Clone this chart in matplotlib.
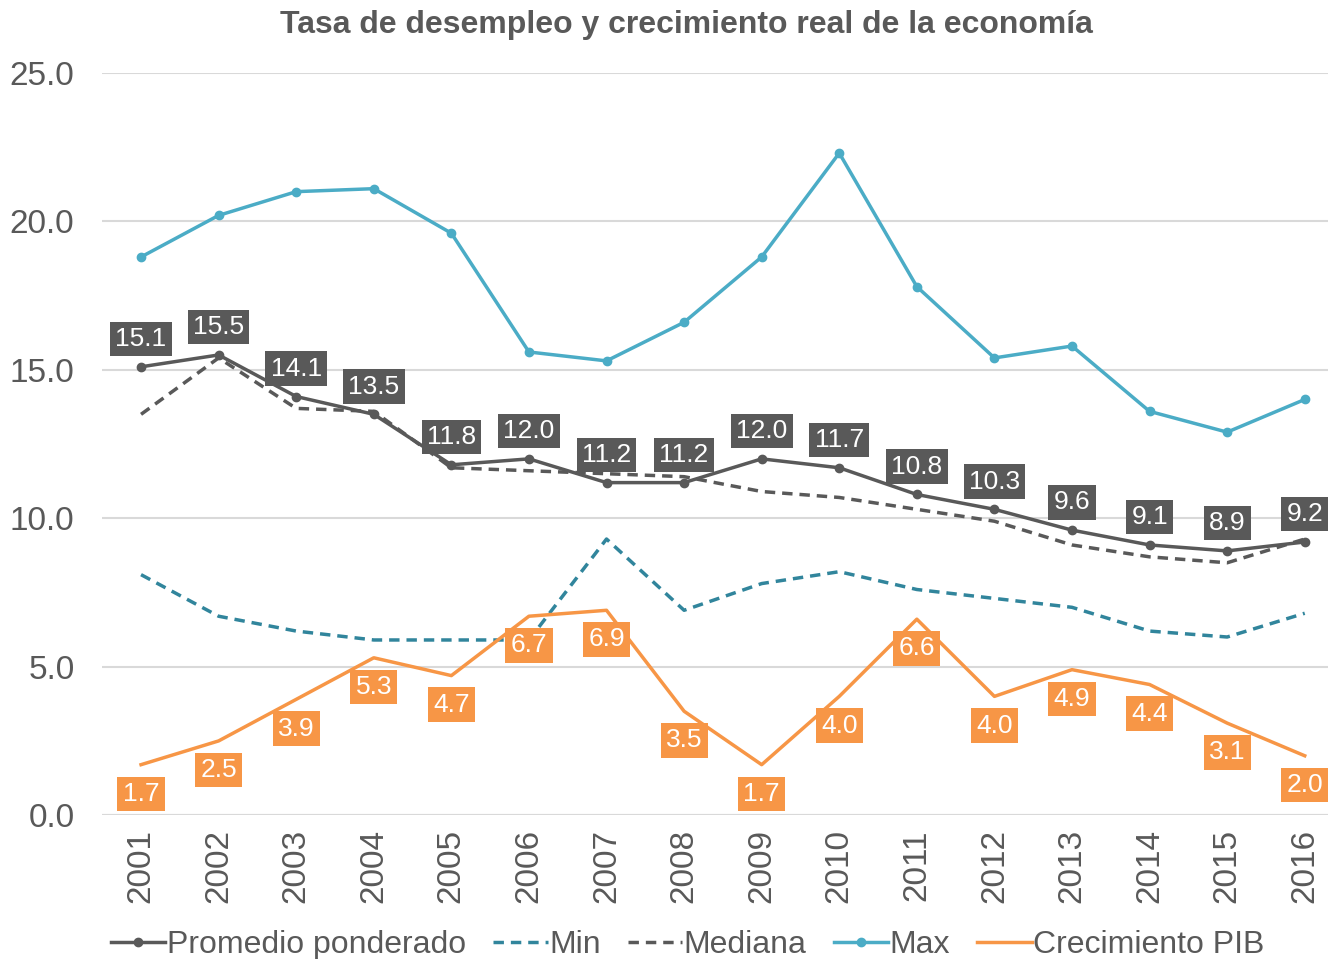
import numpy as np
import matplotlib
matplotlib.use("Agg")
from matplotlib import pyplot as plt

plt.rcParams['font.family'] = ['Liberation Sans', 'DejaVu Sans']

# datos
anios = ['2001', '2002', '2003', '2004', '2005', '2006', '2007', '2008',
         '2009', '2010', '2011', '2012', '2013', '2014', '2015', '2016']
promedio = [15.1, 15.5, 14.1, 13.5, 11.8, 12.0, 11.2, 11.2, 12.0, 11.7, 10.8, 10.3, 9.6, 9.1, 8.9, 9.2]
minimo = [8.1, 6.7, 6.2, 5.9, 5.9, 5.9, 9.3, 6.9, 7.8, 8.2, 7.6, 7.3, 7.0, 6.2, 6.0, 6.8]
mediana = [13.5, 15.4, 13.7, 13.6, 11.7, 11.6, 11.5, 11.4, 10.9, 10.7, 10.3, 9.9, 9.1, 8.7, 8.5, 9.3]
maximo = [18.8, 20.2, 21.0, 21.1, 19.6, 15.6, 15.3, 16.6, 18.8, 22.3, 17.8, 15.4, 15.8, 13.6, 12.9, 14.0]
pib = [1.7, 2.5, 3.9, 5.3, 4.7, 6.7, 6.9, 3.5, 1.7, 4.0, 6.6, 4.0, 4.9, 4.4, 3.1, 2.0]

gris = '#595959'
teal = '#31859C'
celeste = '#4BACC6'
naranja = '#F79646'

fig = plt.figure(figsize=(13.28, 9.59), dpi=100)
ax = fig.add_axes([0.077, 0.150, 0.923, 0.774])
x = np.arange(len(anios))

l1, = ax.plot(x, promedio, color=gris, lw=2.5, marker='o', ms=6, label='Promedio ponderado', zorder=5)
l2, = ax.plot(x, minimo, color=teal, lw=2.5, ls=(0, (3, 2)), label='Min', zorder=3)
l3, = ax.plot(x, mediana, color=gris, lw=2.5, ls=(0, (3, 2)), label='Mediana', zorder=4)
l4, = ax.plot(x, maximo, color=celeste, lw=2.5, marker='o', ms=6, label='Max', zorder=3)
l5, = ax.plot(x, pib, color=naranja, lw=2.5, label='Crecimiento PIB', zorder=3)

for i in range(len(anios)):
    ax.annotate('%.1f' % promedio[i], (x[i], promedio[i]), xytext=(0, 20), textcoords='offset points',
                ha='center', va='center', color='white', fontsize=19, zorder=6,
                bbox=dict(boxstyle='square,pad=0.2', fc=gris, ec='none'))
    ax.annotate('%.1f' % pib[i], (x[i], pib[i]), xytext=(0, -21), textcoords='offset points',
                ha='center', va='center', color='white', fontsize=19, zorder=6,
                bbox=dict(boxstyle='square,pad=0.2', fc=naranja, ec='none'))

ax.set_xlim(-0.5, 15.3)
ax.set_ylim(0, 25)
ax.set_yticks([0, 5, 10, 15, 20, 25])
ax.set_yticklabels(['0.0', '5.0', '10.0', '15.0', '20.0', '25.0'])
ax.set_xticks(x)
ax.set_xticklabels(anios, rotation=90)
ax.tick_params(axis='both', length=0, labelsize=24, colors=gris)
ax.tick_params(axis='y', pad=20)
ax.tick_params(axis='x', pad=10)
ax.grid(axis='y', color='#D9D9D9', lw=1.5)
ax.set_axisbelow(True)
for s in ax.spines.values():
    s.set_visible(False)
ax.axhline(0, color='#D9D9D9', lw=1.5, zorder=1)

fig.suptitle('Tasa de desempleo y crecimiento real de la economía', x=0.517, y=0.99,
             fontsize=23, fontweight='bold', color=gris)

fig.legend(handles=[l1, l2, l3, l4, l5], loc='lower center', bbox_to_anchor=(0.518, -0.031),
           ncol=5, frameon=False, fontsize=23, handlelength=1.7, handletextpad=0.05,
           columnspacing=0.85, labelcolor=gris)

fig.savefig('out.png', dpi=100)
